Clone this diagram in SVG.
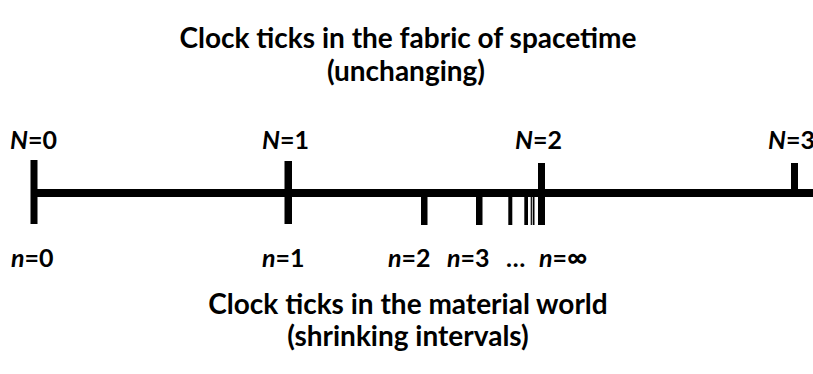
<svg xmlns="http://www.w3.org/2000/svg" width="813" height="374" viewBox="0 0 813 374">
<style>
text{font-family:Lato,"Open Sans","Liberation Sans",sans-serif;font-weight:bold;fill:#000}
.title{font-size:28px;text-anchor:middle}
.lab{font-size:25px}
.tick{fill:#000}
</style>
<rect width="813" height="374" fill="#fff"/>
<g id="title-top">
<text class="title" x="408" y="48">Clock ticks in the fabric of spacetime</text>
<text class="title" x="406" y="81">(unchanging)</text>
</g>
<g id="connectors">
<rect class="tick" x="31" y="189" width="782" height="8"/>
</g>
<g id="tick-N0"><rect class="tick" x="30.5" y="160" width="7" height="64"/></g>
<g id="tick-N1"><rect class="tick" x="284.5" y="161" width="7.5" height="63"/></g>
<g id="tick-N2"><rect class="tick" x="538" y="163" width="7" height="62"/></g>
<g id="tick-N3"><rect class="tick" x="791" y="163" width="7" height="30"/></g>
<g id="tick-n2"><rect class="tick" x="421" y="193" width="6.5" height="32"/></g>
<g id="tick-n3"><rect class="tick" x="476" y="193" width="6.5" height="32"/></g>
<g id="tick-n4"><rect class="tick" x="508.3" y="193" width="4" height="32"/></g>
<g id="tick-n5"><rect class="tick" x="524.3" y="193" width="3.7" height="32"/></g>
<g id="tick-n6"><rect class="tick" x="530.7" y="193" width="1.2" height="32"/></g>
<g id="tick-n7"><rect class="tick" x="532.7" y="193" width="1.8" height="32"/></g>
<g id="label-N0"><text class="lab" x="10" y="149"><tspan font-style="italic">N</tspan>=0</text></g>
<g id="label-N1"><text class="lab" x="262" y="149"><tspan font-style="italic">N</tspan>=1</text></g>
<g id="label-N2"><text class="lab" x="515" y="149"><tspan font-style="italic">N</tspan>=2</text></g>
<g id="label-N3"><text class="lab" x="768" y="149"><tspan font-style="italic">N</tspan>=3</text></g>
<g id="label-n0"><text class="lab" x="11" y="267"><tspan font-style="italic">n</tspan>=0</text></g>
<g id="label-n1"><text class="lab" x="262" y="267"><tspan font-style="italic">n</tspan>=1</text></g>
<g id="label-n2"><text class="lab" x="388" y="267"><tspan font-style="italic">n</tspan>=2</text></g>
<g id="label-n3"><text class="lab" x="447" y="267"><tspan font-style="italic">n</tspan>=3</text></g>
<g id="label-dots"><text class="lab" x="506" y="267">…</text></g>
<g id="label-ninf"><text class="lab" x="539" y="267"><tspan font-style="italic">n</tspan>=<tspan font-size="28px">∞</tspan></text></g>
<g id="title-bottom">
<text class="title" x="408" y="314">Clock ticks in the material world</text>
<text class="title" x="408" y="346">(shrinking intervals)</text>
</g>
</svg>
